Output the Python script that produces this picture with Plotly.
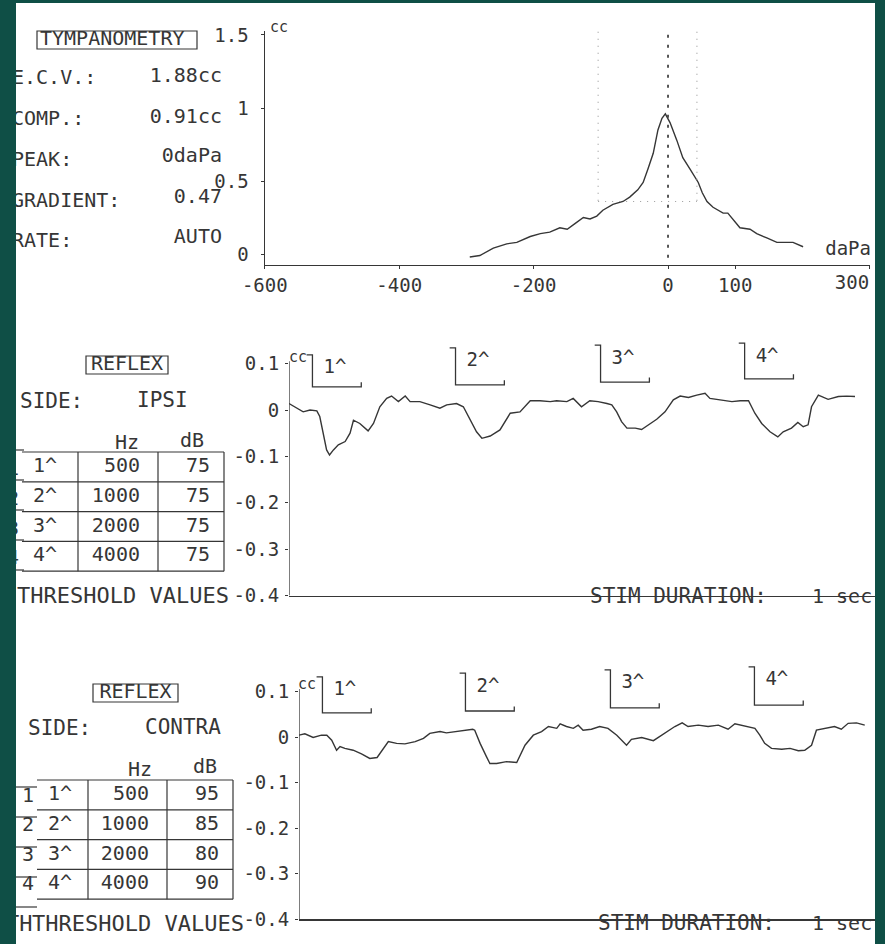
import plotly.graph_objects as go

W, H = 885, 944
TEAL = "#0f4f46"
INK = "#363636"
FONT = "DejaVu Sans Mono"

# ---------------- data ----------------
# Tympanogram
tymp_pressure_dapa = [-295, -280, -260, -240, -225, -205, -190, -176, -161, -150,
                      -138, -126, -116, -106, -97, -82, -67, -57, -45, -37,
                      -30, -22, -15, -9, -4, 3, 13, 22, 33, 45,
                      51, 58, 67, 82, 89, 100, 107, 122, 132, 147,
                      162, 177, 186, 201]
tymp_compliance_cc = [-0.02, -0.01, 0.04, 0.07, 0.08, 0.12, 0.14, 0.15, 0.18, 0.17,
                      0.21, 0.25, 0.24, 0.26, 0.30, 0.34, 0.36, 0.39, 0.44, 0.49,
                      0.58, 0.69, 0.85, 0.93, 0.96, 0.90, 0.78, 0.66, 0.58, 0.49,
                      0.42, 0.36, 0.32, 0.28, 0.28, 0.22, 0.18, 0.17, 0.14, 0.11,
                      0.08, 0.08, 0.08, 0.05]
peak_pressure_dapa = 0
gradient_left_dapa = -104
gradient_right_dapa = 43
gradient_level_cc = 0.36
guide_top_cc = 1.57

tymp_x_ticks = [-600, -400, -200, 0, 100, 300]
tymp_x_ticktext = ["-600", "-400", "-200", "0", "100", "300"]
tymp_y_ticks = [0, 0.5, 1, 1.5]
tymp_y_ticktext = ["0", "0.5", "1", "1.5"]

tymp_fields = ["E.C.V.:", "COMP.:", "PEAK:", "GRADIENT:", "RATE:"]
tymp_values = ["1.88cc", "0.91cc", "0daPa", "0.47", "AUTO"]

# Acoustic reflex
reflex_y_ticks = [-0.4, -0.3, -0.2, -0.1, 0, 0.1]
reflex_y_ticktext = ["-0.4", "-0.3", "-0.2", "-0.1", "0", "0.1"]

stim_labels = ["1^", "2^", "3^", "4^"]
stim_freq_hz = [500, 1000, 2000, 4000]
ipsi_level_db = [75, 75, 75, 75]
contra_level_db = [95, 85, 80, 90]
stim_onset_s = [0.48, 3.41, 6.38, 9.33]
stim_duration_s = 1.0

ipsi_time_s = [0, 0.12, 0.29, 0.43, 0.57, 0.63, 0.70, 0.77, 0.83, 0.91,
               1.01, 1.15, 1.25, 1.32, 1.45, 1.62, 1.73, 1.86, 2.00, 2.10,
               2.24, 2.38, 2.48, 2.68, 2.89, 3.09, 3.23, 3.43, 3.57, 3.71,
               3.84, 3.95, 4.12, 4.32, 4.53, 4.73, 4.94, 5.14, 5.35, 5.48,
               5.69, 5.82, 5.99, 6.16, 6.33, 6.51, 6.61, 6.71, 6.81, 6.92,
               7.09, 7.22, 7.39, 7.53, 7.70, 7.87, 8.01, 8.18, 8.35, 8.52,
               8.62, 8.86, 9.07, 9.24, 9.41, 9.54, 9.68, 9.85, 10.01, 10.12,
               10.29, 10.42, 10.53, 10.63, 10.70, 10.84, 11.04, 11.25, 11.42, 11.59]
ipsi_change_cc = [0.014, 0.007, -0.004, 0.000, -0.002, -0.014, -0.050, -0.086, -0.097, -0.086,
                  -0.075, -0.068, -0.050, -0.022, -0.029, -0.045, -0.029, 0.007, 0.025, 0.030,
                  0.018, 0.030, 0.018, 0.018, 0.011, 0.004, 0.011, 0.014, 0.007, -0.022,
                  -0.047, -0.061, -0.056, -0.043, -0.007, -0.004, 0.020, 0.020, 0.018, 0.020,
                  0.018, 0.025, 0.007, 0.020, 0.018, 0.014, 0.011, -0.004, -0.025, -0.039,
                  -0.039, -0.042, -0.029, -0.020, -0.004, 0.022, 0.030, 0.027, 0.032, 0.036,
                  0.025, 0.022, 0.018, 0.020, 0.020, -0.007, -0.029, -0.047, -0.058, -0.047,
                  -0.039, -0.027, -0.036, -0.032, 0.007, 0.032, 0.023, 0.029, 0.030, 0.029]

contra_time_s = [0, 0.12, 0.29, 0.46, 0.57, 0.67, 0.77, 0.84, 0.94, 1.11,
                 1.28, 1.45, 1.60, 1.73, 1.83, 2.00, 2.17, 2.38, 2.55, 2.68,
                 2.89, 3.02, 3.23, 3.40, 3.56, 3.60, 3.71, 3.84, 3.91, 4.05,
                 4.25, 4.46, 4.53, 4.63, 4.80, 4.97, 5.11, 5.28, 5.35, 5.48,
                 5.62, 5.72, 5.82, 5.99, 6.16, 6.33, 6.51, 6.61, 6.71, 6.81,
                 7.02, 7.26, 7.43, 7.56, 7.70, 7.85, 7.97, 8.18, 8.38, 8.59,
                 8.79, 8.93, 9.13, 9.34, 9.44, 9.54, 9.68, 9.89, 10.06, 10.23,
                 10.36, 10.50, 10.60, 10.77, 10.97, 11.11, 11.25, 11.42, 11.59]
contra_change_cc = [0.004, 0.007, -0.001, 0.004, 0.004, -0.007, -0.029, -0.021, -0.025, -0.029,
                    -0.037, -0.047, -0.045, -0.025, -0.010, -0.014, -0.015, -0.010, -0.003, 0.008,
                    0.012, 0.009, 0.012, 0.014, 0.017, 0.015, -0.014, -0.043, -0.058, -0.058,
                    -0.054, -0.056, -0.039, -0.018, 0.004, 0.012, 0.023, 0.019, 0.029, 0.023,
                    0.019, 0.026, 0.015, 0.017, 0.023, 0.019, 0.004, -0.007, -0.018, -0.005,
                    -0.001, -0.008, 0.004, 0.015, 0.023, 0.031, 0.023, 0.026, 0.023, 0.026,
                    0.017, 0.029, 0.024, 0.019, 0.004, -0.014, -0.025, -0.027, -0.025, -0.030,
                    -0.029, -0.018, 0.015, 0.019, 0.023, 0.017, 0.030, 0.031, 0.026]

ipsi_marker_top_cc = [0.119, 0.134, 0.140, 0.144]
ipsi_marker_bottom_cc = [0.050, 0.054, 0.060, 0.067]
contra_marker_top_cc = [0.132, 0.140, 0.147, 0.154]
contra_marker_bottom_cc = [0.053, 0.057, 0.064, 0.070]

reflex_axis_top_cc = 0.105
reflex_range = [-0.4, 0.17]

# ---------------- helpers ----------------
fig = go.Figure()
shapes = []


def fx(p):
    return p / W


def fy(p):
    return 1 - p / H


def pline(x0, y0, x1, y1, w=1.2, color=INK):
    shapes.append(dict(type="line", xref="paper", yref="paper",
                       x0=fx(x0), x1=fx(x1), y0=fy(y0), y1=fy(y1),
                       line=dict(color=color, width=w), layer="above"))


def pbox(x0, y0, x1, y1, w=1.2):
    shapes.append(dict(type="rect", xref="paper", yref="paper",
                       x0=fx(x0), x1=fx(x1), y0=fy(y0), y1=fy(y1),
                       line=dict(color=INK, width=w), fillcolor="rgba(0,0,0,0)",
                       layer="above"))


def txt(s, x, y, align="left", size=20, color=INK):
    pos = {"left": "middle right", "right": "middle left",
           "center": "middle center"}[align]
    fig.add_trace(go.Scatter(
        x=[x], y=[y], text=[s], mode="text", textposition=pos,
        textfont=dict(family=FONT, size=size, color=color),
        xaxis="x4", yaxis="y4", hoverinfo="skip", showlegend=False,
        cliponaxis=True))


def line_trace(x, y, xa, ya, width=1.3, color=INK, dash=None, clip=True):
    fig.add_trace(go.Scatter(
        x=x, y=y, mode="lines", xaxis=xa, yaxis=ya,
        line=dict(color=color, width=width, dash=dash),
        hoverinfo="skip", showlegend=False, cliponaxis=clip))


# white paper
shapes.append(dict(type="rect", xref="paper", yref="paper",
                   x0=fx(16), x1=fx(875), y0=0, y1=fy(3),
                   fillcolor="white", line=dict(width=0), layer="below"))

# ---------------- tympanogram ----------------
line_trace(tymp_pressure_dapa, tymp_compliance_cc, "x", "y", width=1.4)
line_trace([peak_pressure_dapa, peak_pressure_dapa], [guide_top_cc, -0.05], "x", "y",
           width=1.8, color="#444444", dash="3px,7px", clip=False)
line_trace([gradient_left_dapa, gradient_left_dapa], [guide_top_cc, gradient_level_cc],
           "x", "y", width=1.1, color="#9a9a9a", dash="1px,6px", clip=False)
line_trace([gradient_right_dapa, gradient_right_dapa], [guide_top_cc, gradient_level_cc],
           "x", "y", width=1.1, color="#9a9a9a", dash="1px,6px", clip=False)
line_trace([gradient_left_dapa, gradient_right_dapa], [gradient_level_cc, gradient_level_cc],
           "x", "y", width=1.1, color="#9a9a9a", dash="1px,6px", clip=False)
# empty trace so the overlay axis carrying the right-end tick label is drawn
fig.add_trace(go.Scatter(x=[], y=[], xaxis="x5", yaxis="y", showlegend=False,
                         hoverinfo="skip"))

# ---------------- reflex traces ----------------
line_trace(ipsi_time_s, ipsi_change_cc, "x2", "y2", width=1.4)
line_trace(contra_time_s, contra_change_cc, "x3", "y3", width=1.4)
# vertical axis lines (only up to 0.1 cc, like the printout)
line_trace([0, 0], [reflex_range[0], reflex_axis_top_cc], "x2", "y2", width=1.3, clip=False)
line_trace([0, 0], [reflex_range[0], reflex_axis_top_cc], "x3", "y3", width=1.3, clip=False)


def stim_markers(xa, ya, tops, bottoms):
    for i, on in enumerate(stim_onset_s):
        top, bot = tops[i], bottoms[i]
        line_trace([on - 0.12, on, on, on + stim_duration_s, on + stim_duration_s],
                   [top, top, bot, bot, bot + 0.01], xa, ya, width=1.3, clip=False)
        fig.add_trace(go.Scatter(
            x=[on + 0.46], y=[top - 0.03], text=[stim_labels[i]], mode="text",
            textposition="middle center", xaxis=xa, yaxis=ya,
            textfont=dict(family=FONT, size=19, color=INK),
            hoverinfo="skip", showlegend=False, cliponaxis=False))


stim_markers("x2", "y2", ipsi_marker_top_cc, ipsi_marker_bottom_cc)
stim_markers("x3", "y3", contra_marker_top_cc, contra_marker_bottom_cc)

# ---------------- left panel texts ----------------
pbox(37, 31, 197, 49)
txt("TYMPANOMETRY", 40, 40)
field_y = [79, 120, 161, 202, 242]
value_y = [77, 118, 157, 198, 238]
for i, f in enumerate(tymp_fields):
    txt(f, 12, field_y[i])
    txt(tymp_values[i], 222, value_y[i], align="right")
txt("cc", 270, 28, size=15)
txt("daPa", 871, 250, align="right", size=19)


def reflex_block(box, side, side_x, side_y, hz_xy, db_xy, tab, levels, thr_x, thr_y,
                 stim_x, stim_y, sec_x, cc_xy):
    bx0, by0, bx1, by1 = box
    pbox(bx0, by0, bx1, by1)
    txt("REFLEX", (bx0 + bx1) / 2, (by0 + by1) / 2, align="center")
    txt("SIDE:", side_x, side_y, size=21)
    txt(side, side_x + 117, side_y - 1, size=21)
    txt("Hz", hz_xy[0], hz_xy[1], align="center")
    txt("dB", db_xy[0], db_xy[1], align="center")
    x0, x1, xv1, xv2, top, pitch = tab
    for r in range(5):
        yy = top + r * pitch
        pline(x0, yy, x1, yy)
    for xv in (xv1, xv2, x1):
        pline(xv, top, xv, top + 4 * pitch)
    for r in range(4):
        yc = top + pitch * (r + 0.5)
        txt(stim_labels[r], x0 + 11, yc)
        txt(str(stim_freq_hz[r]), xv2 - 18, yc, align="right")
        txt(str(levels[r]), x1 - 14, yc, align="right")
    txt("THRESHOLD VALUES", thr_x, thr_y, size=22)
    txt("STIM DURATION:", stim_x, stim_y, size=21)
    txt("1 sec", sec_x, stim_y, size=20)
    txt("cc", cc_xy[0], cc_xy[1], size=15)


reflex_block((86, 356, 168, 374), "IPSI", 20, 403, (127, 444), (192, 442),
             (22, 224, 78, 158, 452, 29.8), ipsi_level_db, 17, 597,
             590, 598, 812, (289, 358))
reflex_block((93, 684, 178, 702), "CONTRA", 28, 730, (140, 771), (205, 768),
             (37, 233, 88, 167, 780, 29.8), contra_level_db, 32, 925,
             598, 925, 812, (298, 685))

# cut-off fragments of the neighbouring column at the left edge
for r in range(4):
    txt(str(r + 1), 7, 470 + r * 29.8)
    txt(str(r + 1), 22, 797 + r * 29.3)
for r in range(5):
    pline(16, 450 + r * 30, 24, 450 + r * 30)
    pline(16, 787 + r * 30, 37, 787 + r * 30)
txt("TH", 6, 925, size=22)

# ---------------- layout ----------------
tickfont = dict(family=FONT, size=19, color=INK)
common = dict(showgrid=False, zeroline=False, linecolor=INK,
              linewidth=1.3, ticklen=3, tickcolor=INK,
              tickfont=tickfont, fixedrange=True, automargin=False)
tymp_x_domain = [fx(264.8), fx(870.3)]
tymp_x_range = [-600, 301]

fig.update_layout(
    template="none",
    width=W, height=H, margin=dict(l=0, r=0, t=0, b=0, pad=0), autosize=False,
    paper_bgcolor=TEAL, plot_bgcolor="rgba(0,0,0,0)", showlegend=False,
    shapes=shapes,
    xaxis=dict(domain=tymp_x_domain, range=tymp_x_range,
               tickvals=tymp_x_ticks[:-1], ticktext=tymp_x_ticktext[:-1],
               anchor="y", showline=True, ticks="outside", **common),
    # overlay axis: the right-end label sits left of its tick, as on the printout
    xaxis5=dict(domain=tymp_x_domain, range=tymp_x_range, overlaying="x",
                anchor="y", side="bottom",
                tickvals=tymp_x_ticks[-1:], ticktext=tymp_x_ticktext[-1:],
                ticklabelposition="outside left", showline=False, ticks="outside",
                **common),
    yaxis=dict(domain=[fy(265), fy(30.6)], range=[-0.075, 1.53],
               tickvals=tymp_y_ticks, ticktext=tymp_y_ticktext, anchor="x",
               showline=True, ticks="outside", ticklabelstandoff=8, **common),
    xaxis2=dict(domain=[fx(289), fx(875)], range=[0, 12.0], anchor="y2",
                showticklabels=False, showline=True, ticks="", **common),
    yaxis2=dict(domain=[fy(595.6), fy(410 - reflex_range[1] * 464)], range=reflex_range,
                anchor="x2", tickvals=reflex_y_ticks, ticktext=reflex_y_ticktext,
                showline=False, ticks="outside", ticklabelstandoff=2, **common),
    xaxis3=dict(domain=[fx(299), fx(875)], range=[0, 11.8], anchor="y3",
                showticklabels=False, showline=True, ticks="", **common),
    yaxis3=dict(domain=[fy(919.4), fy(737 - reflex_range[1] * 456)], range=reflex_range,
                anchor="x3", tickvals=reflex_y_ticks, ticktext=reflex_y_ticktext,
                showline=False, ticks="outside", ticklabelstandoff=2, **common),
    xaxis4=dict(domain=[fx(16), fx(875)], range=[16, 875], visible=False,
                anchor="y4", fixedrange=True, automargin=False),
    yaxis4=dict(domain=[0, fy(3)], range=[944, 3], visible=False,
                anchor="x4", fixedrange=True, automargin=False),
)

fig.write_html(
    "out.html",
    config={"displayModeBar": False, "staticPlot": True},
    post_script="document.body.style.margin='0';"
                "document.body.style.background='" + TEAL + "';"
                "document.body.style.overflow='hidden';",
)
